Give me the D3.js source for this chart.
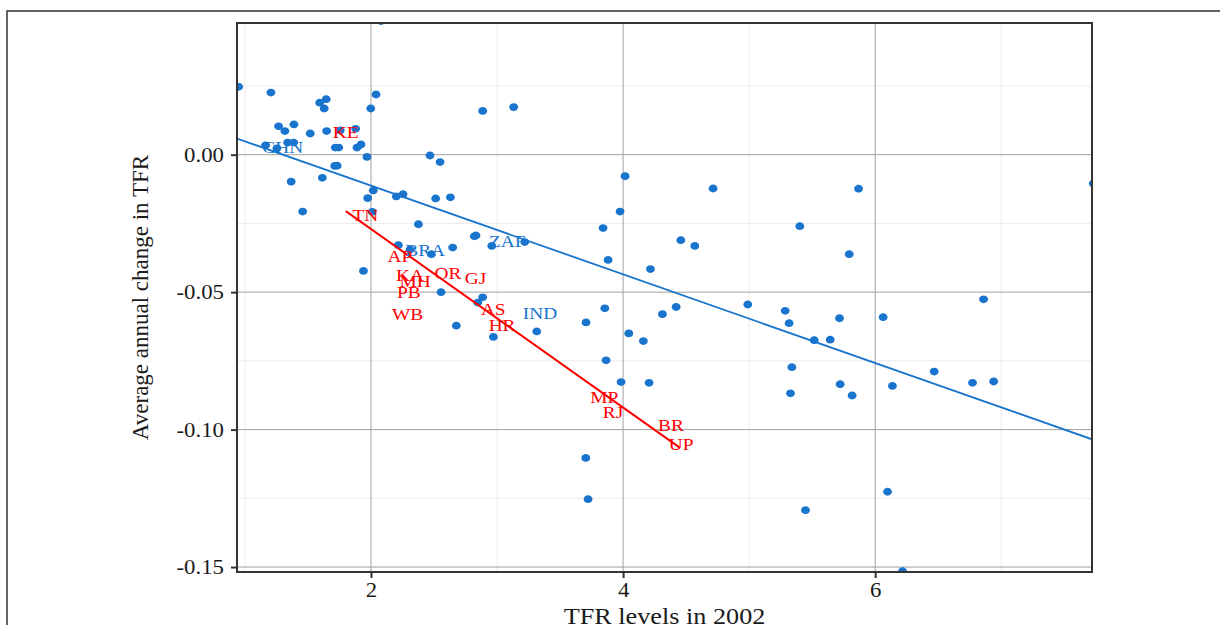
<!DOCTYPE html>
<html>
<head>
<meta charset="utf-8">
<script src="https://cdn.jsdelivr.net/npm/d3@7"></script>
<style>
  body { margin: 0; background: #fff; }
  text { font-family: "Liberation Serif", "DejaVu Serif", serif; }
</style>
</head>
<body>
<div id="chart"></div>
<script>
// TFR level in 2002 (x) and average annual change in TFR (y), one per country
const tfr2002 = [
  0.95, 1.206, 1.593, 1.645, 1.629, 2.04, 1.998, 1.267, 1.389, 1.317,
  1.518, 1.648, 1.756, 1.878, 1.164, 1.254, 1.339, 1.387, 1.717, 1.744,
  1.889, 1.921, 1.968, 2.468, 2.548, 1.712, 1.732, 1.367, 1.614, 2.018,
  1.974, 2.201, 2.254, 2.513, 2.63, 1.458, 2.01, 2.376, 2.079, 2.886,
  3.132, 4.016, 4.714, 3.976, 3.841, 2.82, 2.833, 2.648, 2.958, 3.22,
  4.458, 4.569, 3.881, 4.217, 2.556, 2.847, 2.886, 2.677, 2.971, 3.315,
  3.706, 3.855, 4.045, 4.161, 4.312, 4.421, 5.868, 5.402, 5.794, 7.73,
  4.989, 5.286, 5.317, 5.717, 6.063, 6.86, 5.516, 5.643, 5.339, 5.328,
  5.722, 5.817, 6.137, 6.468, 6.772, 6.94, 3.984, 4.206, 3.704, 3.722,
  6.098, 5.447, 6.217, 2.217, 2.31, 2.479, 1.94, 3.865
];
const tfrChange = [
  0.0247, 0.0226, 0.0189, 0.0202, 0.0168, 0.0219, 0.0168, 0.0103, 0.011, 0.0086,
  0.0077, 0.0086, 0.0088, 0.0094, 0.0034, 0.0023, 0.0044, 0.0044, 0.0026, 0.0026,
  0.0026, 0.0037, -0.0008, -0.0003, -0.0027, -0.0041, -0.004, -0.0098, -0.0084, -0.013,
  -0.0158, -0.0152, -0.0144, -0.0159, -0.0155, -0.0207, -0.0208, -0.0253, 0.0486, 0.0159,
  0.0173, -0.0078, -0.0123, -0.0207, -0.0267, -0.0297, -0.0294, -0.0338, -0.0332, -0.0318,
  -0.0311, -0.0332, -0.0383, -0.0416, -0.05, -0.0538, -0.0519, -0.0622, -0.0663, -0.0643,
  -0.061, -0.0559, -0.065, -0.0678, -0.058, -0.0554, -0.0124, -0.026, -0.0362, -0.0105,
  -0.0545, -0.0568, -0.0613, -0.0595, -0.0591, -0.0526, -0.0675, -0.0673, -0.0773, -0.0868,
  -0.0835, -0.0876, -0.0841, -0.0789, -0.083, -0.0825, -0.0827, -0.083, -0.1103, -0.1253,
  -0.1226, -0.1293, -0.1515, -0.0329, -0.0345, -0.0362, -0.0423, -0.0748
];

// highlighted countries (blue labels)
const countryCodes = ["CHN", "BRA", "ZAF", "IND"];
const countryX = [1.30, 2.43, 3.08, 3.34];
const countryY = [0.0027, -0.0348, -0.0315, -0.0577];

// Indian states (red labels)
const stateCodes = ["KE", "TN", "AP", "KA", "MH", "OR", "GJ", "PB", "WB", "AS", "HR", "MP", "RJ", "BR", "UP"];
const stateX = [1.80, 1.955, 2.23, 2.31, 2.35, 2.61, 2.83, 2.30, 2.29, 2.97, 3.04, 3.85, 3.92, 4.38, 4.46];
const stateY = [0.0081, -0.0218, -0.0369, -0.0438, -0.0459, -0.0430, -0.0447, -0.0501, -0.0578, -0.0560, -0.0620, -0.0881, -0.0936, -0.0984, -0.1053];

// fitted lines: [intercept, slope]
const countryFit = [0.0210, -0.01613];
const stateFit = [0.0379, -0.03247];
const stateFitRange = [1.80, 4.452];

const xMajor = [2, 4, 6];
const xMinor = [1, 3, 5, 7];
const yMajor = [0, -0.05, -0.1, -0.15];
const yMinor = [0.025, -0.025, -0.075, -0.125];

const blue = "#1874CD";
const red = "#FF0000";
const stretch = 1.14; // the reference type is set wide

const W = 1220, H = 625;
const margin = { top: 23, right: 128, bottom: 53, left: 237 };
const width = W - margin.left - margin.right;
const height = H - margin.top - margin.bottom;

const svg = d3
  .select("#chart")
  .append("svg")
  .attr("width", W)
  .attr("height", H);

// outer frame (runs off the right and bottom of the picture)
svg
  .append("rect")
  .attr("x", 7)
  .attr("y", 11)
  .attr("width", 1300)
  .attr("height", 700)
  .attr("fill", "none")
  .attr("stroke", "#333")
  .attr("stroke-width", 1.5);

const g = svg
  .append("g")
  .attr("transform", `translate(${margin.left}, ${margin.top})`);

const x = d3.scaleLinear().domain([0.937, 7.72]).range([0, width]);
const y = d3.scaleLinear().domain([-0.1518, 0.0479]).range([height, 0]);

g.append("clipPath")
  .attr("id", "clip")
  .append("rect")
  .attr("width", width)
  .attr("height", height);

// grid
const grid = g.append("g");
grid
  .selectAll(".xminor")
  .data(xMinor)
  .join("line")
  .attr("x1", (d) => x(d))
  .attr("x2", (d) => x(d))
  .attr("y1", 0)
  .attr("y2", height)
  .attr("stroke", "#ebebeb");
grid
  .selectAll(".yminor")
  .data(yMinor)
  .join("line")
  .attr("y1", (d) => y(d))
  .attr("y2", (d) => y(d))
  .attr("x1", 0)
  .attr("x2", width)
  .attr("stroke", "#ebebeb");
grid
  .selectAll(".xmajor")
  .data(xMajor)
  .join("line")
  .attr("x1", (d) => x(d))
  .attr("x2", (d) => x(d))
  .attr("y1", 0)
  .attr("y2", height)
  .attr("stroke", "#a0a0a0");
grid
  .selectAll(".ymajor")
  .data(yMajor)
  .join("line")
  .attr("y1", (d) => y(d))
  .attr("y2", (d) => y(d))
  .attr("x1", 0)
  .attr("x2", width)
  .attr("stroke", "#a0a0a0");

const plot = g.append("g").attr("clip-path", "url(#clip)");

const points = tfr2002.map((v, i) => ({ x: v, y: tfrChange[i] }));

plot
  .selectAll("ellipse")
  .data(points)
  .join("ellipse")
  .attr("cx", (d) => x(d.x))
  .attr("cy", (d) => y(d.y))
  .attr("rx", 4.4)
  .attr("ry", 3.9)
  .attr("fill", blue);

// country regression line across the whole panel
const dom = x.domain();
plot
  .append("line")
  .attr("x1", x(dom[0]))
  .attr("y1", y(countryFit[0] + countryFit[1] * dom[0]))
  .attr("x2", x(dom[1]))
  .attr("y2", y(countryFit[0] + countryFit[1] * dom[1]))
  .attr("stroke", blue)
  .attr("stroke-width", 1.8);

// state regression line
plot
  .append("line")
  .attr("x1", x(stateFitRange[0]))
  .attr("y1", y(stateFit[0] + stateFit[1] * stateFitRange[0]))
  .attr("x2", x(stateFitRange[1]))
  .attr("y2", y(stateFit[0] + stateFit[1] * stateFitRange[1]))
  .attr("stroke", red)
  .attr("stroke-width", 2);

plot
  .selectAll(".country")
  .data(countryCodes)
  .join("text")
  .attr("transform", (d, i) => `translate(${x(countryX[i])}, ${y(countryY[i])}) scale(${stretch}, 1)`)
  .attr("dy", "0.35em")
  .attr("text-anchor", "middle")
  .attr("font-size", 17)
  .attr("fill", blue)
  .text((d) => d);

plot
  .selectAll(".state")
  .data(stateCodes)
  .join("text")
  .attr("transform", (d, i) => `translate(${x(stateX[i])}, ${y(stateY[i])}) scale(${stretch}, 1)`)
  .attr("dy", "0.35em")
  .attr("text-anchor", "middle")
  .attr("font-size", 17)
  .attr("fill", red)
  .text((d) => d);

// panel border
g.append("rect")
  .attr("width", width)
  .attr("height", height)
  .attr("fill", "none")
  .attr("stroke", "#333")
  .attr("stroke-width", 2);

// axes
const xAxis = g
  .append("g")
  .attr("transform", `translate(0, ${height})`)
  .call(d3.axisBottom(x).tickValues(xMajor).tickSize(6).tickPadding(5).tickFormat(d3.format("d")));
const yAxis = g
  .append("g")
  .call(d3.axisLeft(y).tickValues(yMajor).tickSize(6).tickPadding(6).tickFormat(d3.format(".2f")));

[xAxis, yAxis].forEach((a) => {
  a.select(".domain").remove();
  a.selectAll(".tick line").attr("stroke", "#333").attr("stroke-width", 2);
  a.selectAll(".tick text")
    .attr("fill", "#1a1a1a")
    .attr("font-size", 20)
    .style("font-family", '"Liberation Serif", serif');
});
yAxis
  .selectAll(".tick text")
  .text((d) => d3.format(".2f")(d).replace("−", "-"))
  .attr("x", null)
  .attr("transform", `translate(-13, 0) scale(${stretch}, 1)`);
xAxis.selectAll(".tick text").attr("transform", `scale(${stretch}, 1)`);

svg
  .append("text")
  .attr("transform", `translate(${margin.left + width / 2}, 624) scale(${stretch}, 1)`)
  .attr("text-anchor", "middle")
  .attr("font-size", 23)
  .attr("fill", "#1a1a1a")
  .text("TFR levels in 2002");

svg
  .append("text")
  .attr("transform", `translate(148, ${margin.top + height / 2}) rotate(-90)`)
  .attr("text-anchor", "middle")
  .attr("font-size", 23)
  .attr("fill", "#1a1a1a")
  .text("Average annual change in TFR");
</script>
</body>
</html>
